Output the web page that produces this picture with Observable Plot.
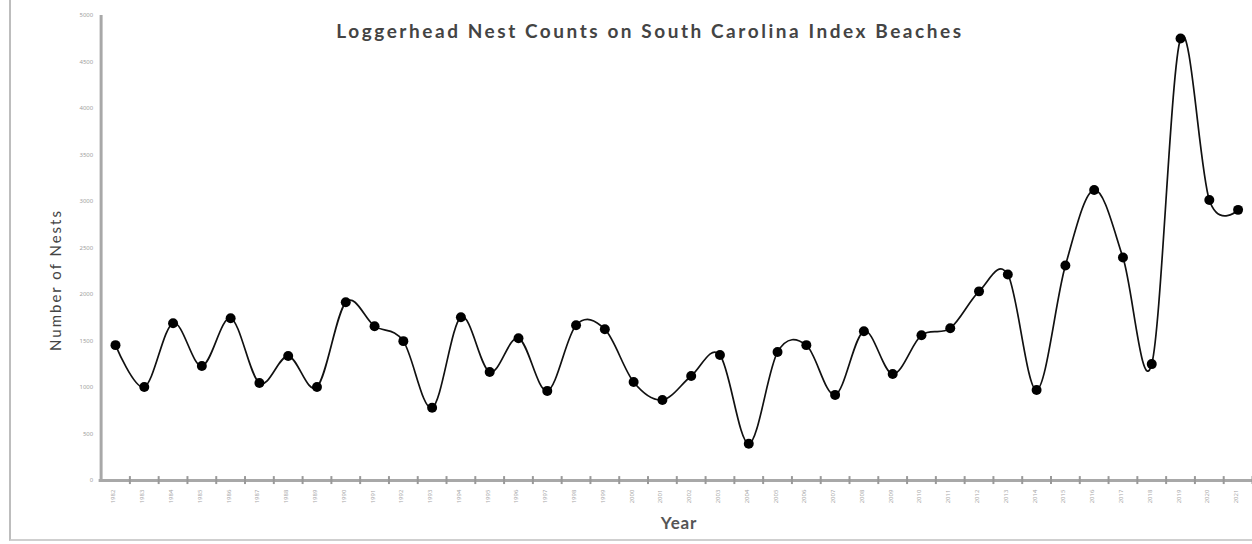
<!DOCTYPE html>
<html>
<head>
<meta charset="utf-8">
<script src="https://cdn.jsdelivr.net/npm/d3@7"></script>
<script src="https://cdn.jsdelivr.net/npm/@observablehq/plot@0.6"></script>
<style>
  html, body { margin: 0; padding: 0; background: #fff; overflow: hidden; }
  #wrap { position: relative; width: 1252px; height: 544px; overflow: hidden; }
  #frame { position: absolute; left: 9px; top: -2px; width: 1250px; height: 543px;
           border-left: 2px solid #bdbdbd; border-bottom: 2px solid #cfcfcf; box-sizing: border-box; }
  #chart { position: absolute; left: 0; top: 0; }
  .lbl { position: absolute; font-family: Lato, "Open Sans", sans-serif; color: #444; white-space: nowrap; }
  #title { left: 650px; top: 19px; transform: translateX(-50%); font-size: 19px; font-weight: bold; letter-spacing: 2.55px; color: #444; }
  #ylab { left: 55px; top: 280px; transform: translate(-50%, -50%) rotate(-90deg); font-size: 15px; letter-spacing: 2px; color: #444; }
  #xlab { left: 679px; top: 512px; transform: translateX(-50%); font-size: 17px; font-weight: bold; color: #555; letter-spacing: 0.8px; }
</style>
</head>
<body>
<div id="wrap">
  <div id="chart"></div>
  <div id="frame"></div>
  <div class="lbl" id="title">Loggerhead Nest Counts on South Carolina Index Beaches</div>
  <div class="lbl" id="ylab">Number of Nests</div>
  <div class="lbl" id="xlab">Year</div>
</div>
<script>
const years = d3.range(1982, 2022);
const nests = [1456, 1006, 1692, 1231, 1745, 1049, 1338, 1006, 1916, 1660,
               1499, 782, 1756, 1167, 1531, 964, 1670, 1627, 1060, 867,
               1124, 1349, 396, 1381, 1456, 921, 1606, 1145, 1563, 1638,
               2034, 2216, 974, 2311, 3124, 2397, 1252, 4751, 3017, 2910];
const yTicks = d3.range(0, 5001, 500);

const data = years.map((y, i) => ({year: String(y), nests: nests[i]}));
const yearLabels = years.map(String);

const W = 1257, ML = 101, MR = 0;
const step = (W - ML - MR) / years.length;
const first = yearLabels[0];

const chart = Plot.plot({
  width: W,
  height: 544,
  marginLeft: ML,
  marginRight: MR,
  marginTop: 15,
  marginBottom: 62,
  style: {background: "transparent", overflow: "visible"},
  x: {type: "point", domain: yearLabels, padding: 0.5, axis: null},
  y: {domain: [0, 5000], axis: null},
  marks: [
    Plot.ruleX([first], {x: d => d, dx: -step / 2, y1: 0, y2: 5000, stroke: "#a8a8a8", strokeWidth: 3}),
    Plot.ruleY(yTicks, {y: d => d, x1: first, x2: first, dx: -step / 2, insetLeft: -5, stroke: "#a0a0a0", strokeWidth: 1.5}),
    Plot.text(yTicks, {y: d => d, frameAnchor: "left", text: d => String(d), dx: -8, textAnchor: "end", fontSize: 6, fill: "#a0a0a0"}),
    Plot.ruleY([0], {stroke: "#a8a8a8", strokeWidth: 3, insetLeft: -2}),
    Plot.ruleX(yearLabels, {x: d => d, dx: step / 2, y1: 0, y2: 0, insetTop: -4, insetBottom: -4, stroke: "#999", strokeWidth: 2}),
    Plot.text(yearLabels, {x: d => d, frameAnchor: "bottom", dy: 16, rotate: -90, text: d => d, fontSize: 6, fill: "#a8a8a8"}),
    Plot.line(data, {x: "year", y: "nests", curve: "cardinal", stroke: "#111", strokeWidth: 1.7}),
    Plot.dot(data, {x: "year", y: "nests", r: 5, fill: "#000", stroke: "none"})
  ]
});
document.getElementById("chart").appendChild(chart);
</script>
</body>
</html>
